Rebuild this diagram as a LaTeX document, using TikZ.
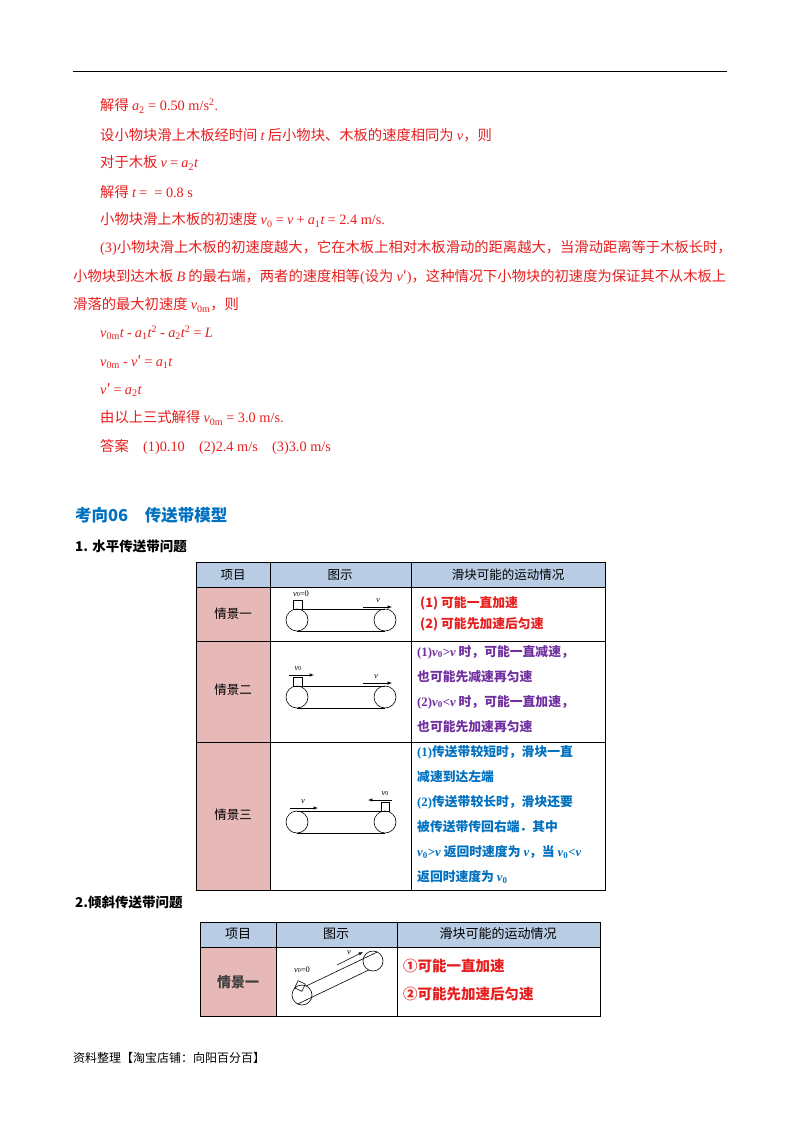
\documentclass[tikz,border=0pt]{standalone}
\usepackage{fontspec}
\usetikzlibrary{calc}
\setmainfont{Noto Sans CJK SC}
\newfontfamily\tm{Liberation Serif}
\newcommand\mi[1]{{\tm\itshape #1}}
\newcommand\sbs[1]{\textsubscript{\tm #1}}
\newcommand\sps[1]{\textsuperscript{\tm #1}}
\definecolor{rd}{RGB}{232,30,30}
\definecolor{pu}{RGB}{112,48,160}
\definecolor{bl}{RGB}{0,112,192}
\definecolor{hd}{RGB}{184,204,228}
\definecolor{pk}{RGB}{230,184,183}
\begin{document}
\begin{tikzpicture}[x=1pt,y=-1pt,
 tx/.style={anchor=west,inner sep=0pt,font=\fontsize{14.3}{16}\selectfont,text=rd},
 tb/.style={anchor=west,inner sep=0pt,font=\fontsize{12.8}{15}\selectfont\bfseries},
 hdr/.style={inner sep=0pt,font=\fontsize{12.5}{15}\selectfont},
 belt/.style={line width=0.6pt},
 varr/.style={-latex,line width=0.5pt},
 lbl/.style={inner sep=0pt,font=\tm\itshape\fontsize{8.5}{9}\selectfont}]
\useasboundingbox (0,0) rectangle (800,1132);
\fill[white] (0,0) rectangle (800,1132);
\coordinate (r1) at (73,72); \coordinate (r2) at (727,72);
\draw[line width=1pt] (r1) -- (r2);
% text
\node[tx] (l1) at (100,106) {解得 \mi{a}\sbs{2}{\tm\ = 0.50 m/s}\sps{2}{\tm .}};
\node[tx] (l2) at (100,135) {设小物块滑上木板经时间 \mi{t} 后小物块、木板的速度相同为 \mi{v}，则};
\node[tx] (l3) at (100,163) {对于木板 \mi{v} {\tm =} \mi{a}\sbs{2}\mi{t}};
\node[tx] (l4) at (100,192) {解得 \mi{t} {\tm = \ = 0.8 s}};
\node[tx] (l5) at (100,220) {小物块滑上木板的初速度 \mi{v}\sbs{0} {\tm =} \mi{v} {\tm +} \mi{a}\sbs{1}\mi{t} {\tm = 2.4 m/s.}};
\node[tx] (l6) at (100,248) {{\tm (3)}小物块滑上木板的初速度越大，它在木板上相对木板滑动的距离越大，当滑动距离等于木板长时，};
\node[tx] (l7) at (73,277) {小物块到达木板 \mi{B} 的最右端，两者的速度相等{\tm (}设为 \mi{v}′{\tm )}，这种情况下小物块的初速度为保证其不从木板上};
\node[tx] (l8) at (73,305) {滑落的最大初速度 \mi{v}\sbs{0m}，则};
\node[tx] (l9) at (100,333) {\mi{v}\sbs{0m}\mi{t} {\tm -} \mi{a}\sbs{1}\mi{t}\sps{2} {\tm -} \mi{a}\sbs{2}\mi{t}\sps{2} {\tm =} \mi{L}};
\node[tx] (l10) at (100,362) {\mi{v}\sbs{0m} {\tm -} \mi{v}′ {\tm =} \mi{a}\sbs{1}\mi{t}};
\node[tx] (l11) at (100,390) {\mi{v}′ {\tm =} \mi{a}\sbs{2}\mi{t}};
\node[tx] (l12) at (100,418) {由以上三式解得 \mi{v}\sbs{0m} {\tm = 3.0 m/s.}};
\node[tx] (l13) at (100,447) {答案\quad{\tm (1)0.10\quad(2)2.4 m/s\quad(3)3.0 m/s}};
\node[anchor=west,inner sep=0pt,text=bl,font=\fontsize{16.5}{19}\selectfont\bfseries] (title) at (75,515) {考向06\quad 传送带模型};
\node[anchor=west,inner sep=0pt,font=\fontsize{13.5}{16}\selectfont\bfseries] (s1) at (75,546) {1. 水平传送带问题};
% table 1
\fill[hd] (196,562) rectangle (605,587);
\fill[pk] (196,587) rectangle (270,890);
\draw[line width=0.8pt] (196,562) rectangle (605,890);
\foreach \yy in {587,641,742} \draw[line width=0.8pt] (196,\yy) -- (605,\yy);
\foreach \xx in {270,411} \draw[line width=0.8pt] (\xx,562) -- (\xx,890);
\node[hdr] (h1) at (233,575) {项目};
\node[hdr] (h2) at (340,575) {图示};
\node[hdr] (h3) at (508,575) {滑块可能的运动情况};
\node[hdr] (c1) at (233,614) {情景一};
\node[hdr] (c2) at (233,690) {情景二};
\node[hdr] (c3) at (233,815) {情景三};
\node[tb,text=rd] (t11) at (420,603) {(1) 可能一直加速};
\node[tb,text=rd] (t12) at (420,624) {(2) 可能先加速后匀速};
\node[tb,text=pu] (t21) at (417,652) {{\tm (1)}\mi{v}\sbs{0}{\tm >}\mi{v} 时，可能一直减速，};
\node[tb,text=pu] (t22) at (417,677) {也可能先减速再匀速};
\node[tb,text=pu] (t23) at (417,702) {{\tm (2)}\mi{v}\sbs{0}{\tm <}\mi{v} 时，可能一直加速，};
\node[tb,text=pu] (t24) at (417,727) {也可能先加速再匀速};
\node[tb,text=bl] (t31) at (417,752) {{\tm (1)}传送带较短时，滑块一直};
\node[tb,text=bl] (t32) at (417,777) {减速到达左端};
\node[tb,text=bl] (t33) at (417,802) {{\tm (2)}传送带较长时，滑块还要};
\node[tb,text=bl] (t34) at (417,827) {被传送带传回右端．其中};
\node[tb,text=bl] (t35) at (417,852) {\mi{v}\sbs{0}{\tm >}\mi{v} 返回时速度为 \mi{v}，当 \mi{v}\sbs{0}{\tm <}\mi{v}};
\node[tb,text=bl] (t36) at (417,877) {返回时速度为 \mi{v}\sbs{0}};
% belts row 1..3
\foreach \cy/\nm in {620/a,697/b,822/c}{
 \draw[belt] (297,\cy) circle (11);
 \draw[belt] (385,\cy) circle (11);
 \draw[belt] (297,\cy-11) -- (385,\cy-11);
 \draw[belt] (297,\cy+11) -- (385,\cy+11);
}
\draw[belt] (293,600) rectangle (302,609);
\node[lbl] (va0) at (301,594) {v{\tm\upshape\fontsize{6}{7}\selectfont 0}{\tm\upshape =0}};
\coordinate (ava) at (363,607); \coordinate (avb) at (392,607);
\draw[varr] (ava) -- (avb); \node[lbl] (va) at (378,601) {v};
\draw[belt] (293,677) rectangle (302,686);
\coordinate (b0a) at (289,675); \coordinate (b0b) at (314,675);
\draw[varr] (b0a) -- (b0b); \node[lbl] (vb0) at (298,669) {v{\tm\upshape\fontsize{6}{7}\selectfont 0}};
\coordinate (bva) at (363,683); \coordinate (bvb) at (392,683);
\draw[varr] (bva) -- (bvb); \node[lbl] (vb) at (376,677) {v};
\draw[belt] (381,802) rectangle (389,811);
\coordinate (c0a) at (392,800); \coordinate (c0b) at (368,800);
\draw[varr] (c0a) -- (c0b); \node[lbl] (vc0) at (385,794) {v{\tm\upshape\fontsize{6}{7}\selectfont 0}};
\coordinate (cva) at (290,808); \coordinate (cvb) at (318,808);
\draw[varr] (cva) -- (cvb); \node[lbl] (vc) at (303,802) {v};
% section 2
\node[anchor=west,inner sep=0pt,font=\fontsize{13.5}{16}\selectfont\bfseries] (s2) at (75,902) {2.倾斜传送带问题};
\fill[hd] (200,922) rectangle (600,947);
\fill[pk] (200,947) rectangle (276,1016);
\draw[line width=0.8pt] (200,922) rectangle (600,1016);
\draw[line width=0.8pt] (200,947) -- (600,947);
\foreach \xx in {276,397} \draw[line width=0.8pt] (\xx,922) -- (\xx,1016);
\node[hdr,font=\fontsize{13}{15}\selectfont] (g1) at (238,934) {项目};
\node[hdr,font=\fontsize{13}{15}\selectfont] (g2) at (336,934) {图示};
\node[hdr,font=\fontsize{13}{15}\selectfont] (g3) at (498,934) {滑块可能的运动情况};
\node[hdr,font=\fontsize{14}{16}\selectfont\bfseries,text=black!75] (g4) at (238,982) {情景一};
\node[tb,text=rd,font=\fontsize{14.5}{17}\selectfont\bfseries] (u1) at (403,966) {①可能一直加速};
\node[tb,text=rd,font=\fontsize{14.5}{17}\selectfont\bfseries] (u2) at (403,994) {②可能先加速后匀速};
% inclined belt
\draw[belt] (302,995) circle (10);
\draw[belt] (373,961) circle (10);
\draw[belt] ($(302,995)+(115.6:10)$) -- ($(373,961)+(115.6:10)$);
\draw[belt] ($(302,995)+(-64.4:10)$) -- ($(373,961)+(-64.4:10)$);
\draw[belt,rotate around={-25.6:(300,986)}] (296,982) rectangle (304,990);
\node[lbl] (vd0) at (302,970) {v{\tm\upshape\fontsize{6}{7}\selectfont 0}{\tm\upshape =0}};
\coordinate (dva) at (337,965); \coordinate (dvb) at (363,952);
\draw[varr] (dva) -- (dvb); \node[lbl] (vd) at (349,953) {v};
\node[anchor=west,inner sep=0pt,font=\fontsize{12}{14}\selectfont] (ft) at (73,1058) {资料整理【淘宝店铺：向阳百分百】};
\end{tikzpicture}
\end{document}
